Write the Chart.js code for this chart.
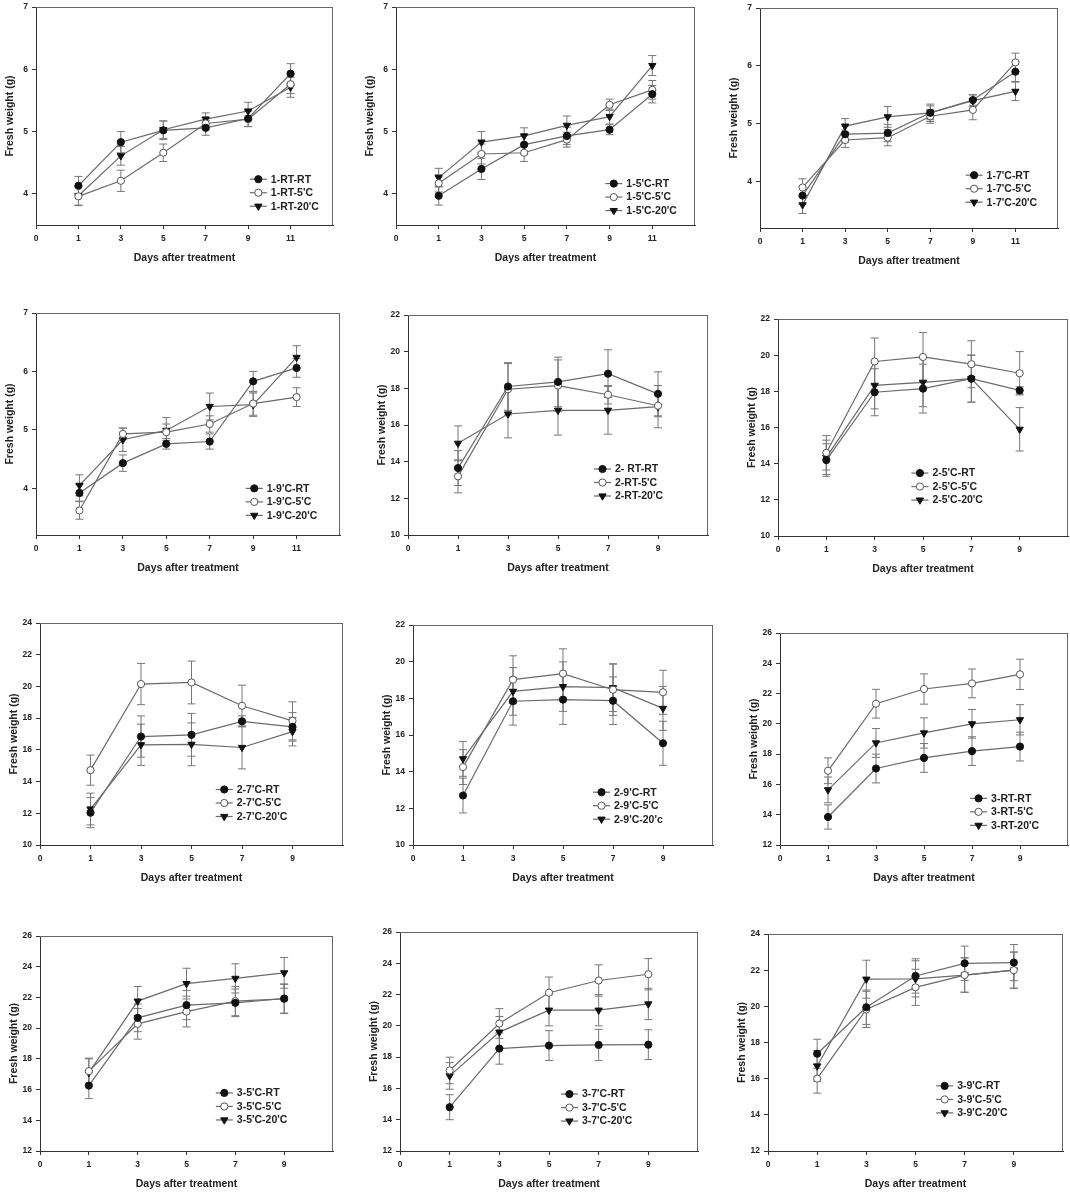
<!DOCTYPE html>
<html>
<head>
<meta charset="utf-8">
<script src="https://cdn.jsdelivr.net/npm/chart.js@4.4.1/dist/chart.umd.min.js"></script>
<style>
  html, body { margin: 0; padding: 0; background: #fff; overflow: hidden; }
  #wrap { position: relative; width: 1070px; height: 1192px; }
  canvas { position: absolute; }
</style>
</head>
<body>
<div id="wrap"></div>
<script>
// x values (days) and x tick labels; the "0" tick sits one step left of day 1
const days11 = [1, 3, 5, 7, 9, 11];
const days9 = [1, 3, 5, 7, 9];
const xTickValues = [-1, 1, 3, 5, 7, 9, 11];
const xTickLabels = ['0', '1', '3', '5', '7', '9', '11'];

// panel 1
const p1Names = ['1-RT-RT', "1-RT-5'C", "1-RT-20'C"];
const p1Mean = [[4.13, 4.83, 5.02, 5.06, 5.21, 5.93], [3.96, 4.21, 4.66, 5.13, 5.20, 5.76], [3.97, 4.61, 5.03, 5.20, 5.33, 5.71]];
const p1Err = [[0.15, 0.17, 0.15, 0.12, 0.13, 0.16], [0.15, 0.17, 0.14, 0.10, 0.12, 0.15], [0.15, 0.15, 0.14, 0.10, 0.14, 0.16]];
const p1YTicks = [4, 5, 6, 7];

// panel 2
const p2Names = ["1-5'C-RT", "1-5'C-5'C", "1-5'C-20'C"];
const p2Mean = [[3.97, 4.40, 4.79, 4.93, 5.03, 5.60], [4.17, 4.64, 4.66, 4.87, 5.43, 5.67], [4.26, 4.83, 4.93, 5.10, 5.24, 6.06]];
const p2Err = [[0.15, 0.17, 0.15, 0.14, 0.08, 0.14], [0.14, 0.16, 0.14, 0.12, 0.09, 0.15], [0.15, 0.17, 0.13, 0.15, 0.12, 0.16]];
const p2YTicks = [4, 5, 6, 7];

// panel 3
const p3Names = ["1-7'C-RT", "1-7'C-5'C", "1-7'C-20'C"];
const p3Mean = [[3.76, 4.82, 4.84, 5.19, 5.41, 5.90], [3.90, 4.72, 4.76, 5.13, 5.24, 6.06], [3.60, 4.96, 5.12, 5.19, 5.40, 5.56]];
const p3Err = [[0.15, 0.14, 0.15, 0.12, 0.09, 0.17], [0.15, 0.13, 0.14, 0.12, 0.17, 0.16], [0.15, 0.13, 0.18, 0.15, 0.10, 0.16]];
const p3YTicks = [4, 5, 6, 7];

// panel 4
const p4Names = ["1-9'C-RT", "1-9'C-5'C", "1-9'C-20'C"];
const p4Mean = [[3.92, 4.43, 4.76, 4.80, 5.83, 6.06], [3.62, 4.93, 4.96, 5.10, 5.45, 5.56], [4.05, 4.83, 4.99, 5.40, 5.43, 6.24]];
const p4Err = [[0.14, 0.14, 0.09, 0.13, 0.17, 0.16], [0.15, 0.10, 0.14, 0.14, 0.20, 0.16], [0.18, 0.20, 0.22, 0.23, 0.20, 0.20]];
const p4YTicks = [4, 5, 6, 7];

// panel 5
const p5Names = ['2- RT-RT', "2-RT-5'C", "2-RT-20'C"];
const p5Mean = [[13.65, 18.10, 18.35, 18.80, 17.70], [13.20, 17.95, 18.15, 17.65, 17.05], [15.00, 16.60, 16.80, 16.80, 17.00]];
const p5Err = [[0.95, 1.30, 1.35, 1.30, 1.20], [0.90, 1.40, 1.40, 0.50, 0.60], [0.95, 1.30, 1.35, 1.30, 1.15]];
const p5YTicks = [10, 12, 14, 16, 18, 20, 22];

// panel 6
const p6Names = ["2-5'C-RT", "2-5'C-5'C", "2-5'C-20'C"];
const p6Mean = [[14.20, 17.95, 18.15, 18.70, 18.05], [14.60, 19.65, 19.90, 19.50, 19.00], [14.35, 18.33, 18.50, 18.70, 15.90]];
const p6Err = [[0.90, 1.30, 1.35, 1.30, 0.20], [0.95, 1.30, 1.35, 1.30, 1.20], [0.95, 1.30, 1.35, 1.30, 1.20]];
const p6YTicks = [10, 12, 14, 16, 18, 20, 22];

// panel 7
const p7Names = ["2-7'C-RT", "2-7'C-5'C", "2-7'C-20'C"];
const p7Mean = [[12.04, 16.84, 16.95, 17.80, 17.45], [14.72, 20.15, 20.25, 18.78, 17.83], [12.27, 16.32, 16.35, 16.15, 17.15]];
const p7Err = [[0.95, 1.30, 1.35, 0.35, 0.90], [0.95, 1.30, 1.35, 1.30, 1.20], [1.00, 1.30, 1.35, 1.35, 0.90]];
const p7YTicks = [10, 12, 14, 16, 18, 20, 22, 24];

// panel 8
const p8Names = ["2-9'C-RT", "2-9'C-5'C", "2-9'C-20'c"];
const p8Mean = [[12.70, 17.84, 17.93, 17.87, 15.55], [14.25, 19.02, 19.35, 18.47, 18.33], [14.70, 18.38, 18.64, 18.58, 17.45]];
const p8Err = [[0.95, 1.30, 1.35, 1.30, 1.20], [0.95, 1.30, 1.35, 1.40, 1.20], [0.95, 1.30, 1.35, 1.30, 1.20]];
const p8YTicks = [10, 12, 14, 16, 18, 20, 22];

// panel 9
const p9Names = ['3-RT-RT', "3-RT-5'C", "3-RT-20'C"];
const p9Mean = [[13.85, 17.05, 17.75, 18.20, 18.50], [16.90, 21.33, 22.30, 22.67, 23.27], [15.64, 18.74, 19.40, 20.00, 20.27]];
const p9Err = [[0.80, 0.95, 0.95, 0.95, 0.95], [0.85, 0.95, 1.00, 0.95, 1.00], [0.85, 0.95, 1.00, 0.95, 1.00]];
const p9YTicks = [12, 14, 16, 18, 20, 22, 24, 26];

// panel 10
const p10Names = ["3-5'C-RT", "3-5'C-5'C", "3-5'C-20'C"];
const p10Mean = [[16.26, 20.67, 21.50, 21.65, 21.93], [17.20, 20.28, 21.08, 21.76, 21.90], [17.10, 21.76, 22.90, 23.24, 23.60]];
const p10Err = [[0.85, 0.90, 0.95, 0.90, 0.95], [0.85, 1.00, 1.00, 0.95, 0.95], [0.90, 0.95, 1.00, 0.95, 1.00]];
const p10YTicks = [12, 14, 16, 18, 20, 22, 24, 26];

// panel 11
const p11Names = ["3-7'C-RT", "3-7'C-5'C", "3-7'C-20'C"];
const p11Mean = [[14.80, 18.55, 18.74, 18.78, 18.80], [17.15, 20.15, 22.12, 22.90, 23.30], [16.80, 19.60, 21.00, 21.00, 21.40]];
const p11Err = [[0.80, 1.00, 0.95, 1.00, 0.95], [0.85, 0.95, 1.00, 1.00, 1.00], [0.85, 1.00, 1.00, 1.00, 1.00]];
const p11YTicks = [12, 14, 16, 18, 20, 22, 24, 26];

// panel 12
const p12Names = ["3-9'C-RT", "3-9'C-5'C", "3-9'C-20'C"];
const p12Mean = [[17.38, 19.95, 21.68, 22.38, 22.42], [16.00, 19.83, 21.05, 21.73, 22.00], [16.70, 21.50, 21.52, 21.73, 22.00]];
const p12Err = [[0.80, 0.95, 0.95, 0.95, 1.00], [0.80, 1.00, 1.00, 0.95, 1.00], [0.85, 1.05, 1.00, 0.95, 1.00]];
const p12YTicks = [12, 14, 16, 18, 20, 22, 24];

// panel list: data refs, axis ranges, plot box on page [left, top, right, bottom], legend anchor (fraction of plot)
const panels = [
  { names: p1Names, mean: p1Mean, err: p1Err, days: days11, yTicks: p1YTicks, yMin: 3.5, xMax: 13, box: [36, 7, 333, 225], leg: [0.72, 0.79] },
  { names: p2Names, mean: p2Mean, err: p2Err, days: days11, yTicks: p2YTicks, yMin: 3.5, xMax: 13, box: [396, 7, 695, 225], leg: [0.70, 0.81] },
  { names: p3Names, mean: p3Mean, err: p3Err, days: days11, yTicks: p3YTicks, yMin: 3.2, xMax: 13, box: [760, 8, 1058, 228], leg: [0.69, 0.76] },
  { names: p4Names, mean: p4Mean, err: p4Err, days: days11, yTicks: p4YTicks, yMin: 3.2, xMax: 13, box: [36, 313, 340, 535], leg: [0.69, 0.79] },
  { names: p5Names, mean: p5Mean, err: p5Err, days: days9, yTicks: p5YTicks, yMin: 10, xMax: 11, box: [408, 315, 708, 535], leg: [0.62, 0.70] },
  { names: p6Names, mean: p6Mean, err: p6Err, days: days9, yTicks: p6YTicks, yMin: 10, xMax: 11, box: [778, 319, 1068, 536], leg: [0.46, 0.71] },
  { names: p7Names, mean: p7Mean, err: p7Err, days: days9, yTicks: p7YTicks, yMin: 10, xMax: 11, box: [40, 623, 343, 845], leg: [0.58, 0.75] },
  { names: p8Names, mean: p8Mean, err: p8Err, days: days9, yTicks: p8YTicks, yMin: 10, xMax: 11, box: [413, 625, 713, 845], leg: [0.60, 0.76] },
  { names: p9Names, mean: p9Mean, err: p9Err, days: days9, yTicks: p9YTicks, yMin: 12, xMax: 11, box: [780, 633, 1068, 845], leg: [0.66, 0.78] },
  { names: p10Names, mean: p10Mean, err: p10Err, days: days9, yTicks: p10YTicks, yMin: 12, xMax: 11, box: [40, 936, 333, 1151], leg: [0.60, 0.73] },
  { names: p11Names, mean: p11Mean, err: p11Err, days: days9, yTicks: p11YTicks, yMin: 12, xMax: 11, box: [400, 932, 698, 1151], leg: [0.54, 0.74] },
  { names: p12Names, mean: p12Mean, err: p12Err, days: days9, yTicks: p12YTicks, yMin: 12, xMax: 11, box: [768, 934, 1063, 1151], leg: [0.57, 0.70] }
];

const FONT = '"Liberation Sans", Arial, sans-serif';
const LINE = '#6a6a6a';
const AXIS = '#333';
const TEXT = '#222';
// marker looks: filled circle, open circle, filled down-triangle
const markers = [
  { pointStyle: 'circle', radius: 3.6, rotation: 0, fill: '#111', stroke: '#111' },
  { pointStyle: 'circle', radius: 3.6, rotation: 0, fill: '#fff', stroke: '#555' },
  { pointStyle: 'triangle', radius: 4.2, rotation: 180, fill: '#111', stroke: '#111' }
];

const PAD_L = 40, PAD_T = 10, PAD_R = 10, PAD_B = 42;

// error bars, drawn under the lines and markers
const errorBars = {
  id: 'errorBars',
  beforeDatasetsDraw(chart) {
    const ctx = chart.ctx;
    const y = chart.scales.y;
    ctx.save();
    ctx.strokeStyle = '#777';
    ctx.lineWidth = 1;
    chart.data.datasets.forEach((ds, di) => {
      const meta = chart.getDatasetMeta(di);
      ds.errors.forEach((e, i) => {
        const pt = meta.data[i];
        const v = ds.data[i].y;
        const top = y.getPixelForValue(v + e);
        const bot = y.getPixelForValue(v - e);
        ctx.beginPath();
        ctx.moveTo(pt.x, top); ctx.lineTo(pt.x, bot);
        ctx.moveTo(pt.x - 4, top); ctx.lineTo(pt.x + 4, top);
        ctx.moveTo(pt.x - 4, bot); ctx.lineTo(pt.x + 4, bot);
        ctx.stroke();
      });
    });
    ctx.restore();
  }
};

// box frame + legend inside the plot
const frameAndLegend = {
  id: 'frameAndLegend',
  afterDraw(chart, args, opts) {
    const ctx = chart.ctx;
    const a = chart.chartArea;
    ctx.save();
    ctx.strokeStyle = '#666';
    ctx.lineWidth = 1;
    ctx.beginPath();
    ctx.moveTo(a.left, a.top + 0.5); ctx.lineTo(a.right, a.top + 0.5);
    ctx.moveTo(a.right - 0.5, a.top); ctx.lineTo(a.right - 0.5, a.bottom);
    ctx.stroke();

    const x0 = a.left + opts.at[0] * (a.right - a.left);
    const y0 = a.top + opts.at[1] * (a.bottom - a.top);
    chart.data.datasets.forEach((ds, i) => {
      const yy = y0 + i * 13.5;
      ctx.strokeStyle = LINE;
      ctx.lineWidth = 1.2;
      ctx.beginPath();
      ctx.moveTo(x0, yy); ctx.lineTo(x0 + 17, yy);
      ctx.stroke();
      const m = markers[i];
      ctx.fillStyle = m.fill;
      ctx.strokeStyle = m.stroke;
      ctx.lineWidth = 1;
      Chart.helpers.drawPoint(ctx, { pointStyle: m.pointStyle, radius: m.radius, rotation: m.rotation, borderWidth: 1 }, x0 + 8.5, yy);
      ctx.fillStyle = TEXT;
      ctx.font = 'bold 10.5px ' + FONT;
      ctx.textBaseline = 'middle';
      ctx.textAlign = 'left';
      ctx.fillText(ds.label, x0 + 21, yy + 0.5);
    });
    ctx.restore();
  }
};

const wrap = document.getElementById('wrap');

panels.forEach((p) => {
  const [L, T, R, B] = p.box;
  const canvas = document.createElement('canvas');
  const w = R - L + PAD_L + PAD_R;
  const h = B - T + PAD_T + PAD_B;
  canvas.width = w;
  canvas.height = h;
  canvas.style.left = (L - PAD_L) + 'px';
  canvas.style.top = (T - PAD_T) + 'px';
  canvas.style.width = w + 'px';
  canvas.style.height = h + 'px';
  wrap.appendChild(canvas);

  // only the day ticks that fall inside this panel's axis (the right edge stays unlabelled)
  const xTicks = xTickValues.filter(v => v < p.xMax);

  const datasets = p.names.map((name, si) => ({
    label: name,
    data: p.days.map((d, i) => ({ x: d, y: p.mean[si][i] })),
    errors: p.err[si],
    borderColor: LINE,
    borderWidth: 1.2,
    pointStyle: markers[si].pointStyle,
    pointRadius: markers[si].radius,
    pointRotation: markers[si].rotation,
    pointBackgroundColor: markers[si].fill,
    pointBorderColor: markers[si].stroke,
    pointBorderWidth: 1,
    tension: 0,
    fill: false
  }));

  new Chart(canvas.getContext('2d'), {
    type: 'line',
    data: { datasets },
    options: {
      responsive: false,
      animation: false,
      layout: { padding: { top: PAD_T, right: PAD_R, left: 0, bottom: 0 } },
      plugins: {
        legend: { display: false },
        tooltip: { enabled: false },
        frameAndLegend: { at: p.leg }
      },
      scales: {
        x: {
          type: 'linear',
          min: -1,
          max: p.xMax,
          afterBuildTicks: (s) => { s.ticks = xTicks.map(v => ({ value: v })); },
          afterFit: (s) => { s.height = PAD_B; },
          ticks: {
            autoSkip: false,
            maxRotation: 0,
            padding: 5,
            color: TEXT,
            font: { family: FONT, size: 8.5, weight: 'bold' },
            callback: (v) => xTickLabels[xTickValues.indexOf(v)]
          },
          grid: { display: true, drawOnChartArea: false, drawTicks: true, tickLength: 4, color: AXIS },
          border: { display: true, color: AXIS, width: 1 },
          title: {
            display: true,
            text: 'Days after treatment',
            color: TEXT,
            font: { family: FONT, size: 10.5, weight: 'bold' },
            padding: { top: 0, bottom: 3 }
          }
        },
        y: {
          type: 'linear',
          min: p.yMin,
          max: p.yTicks[p.yTicks.length - 1],
          afterBuildTicks: (s) => { s.ticks = p.yTicks.map(v => ({ value: v })); },
          afterFit: (s) => { s.width = PAD_L; },
          ticks: {
            autoSkip: false,
            padding: 4,
            color: TEXT,
            font: { family: FONT, size: 8.5, weight: 'bold' }
          },
          grid: { display: true, drawOnChartArea: false, drawTicks: true, tickLength: 4, color: AXIS },
          border: { display: true, color: AXIS, width: 1 },
          title: {
            display: true,
            text: 'Fresh weight (g)',
            color: TEXT,
            font: { family: FONT, size: 10.5, weight: 'bold' },
            padding: { top: 8, bottom: 0 }
          }
        }
      }
    },
    plugins: [errorBars, frameAndLegend]
  });
});
</script>
</body>
</html>
